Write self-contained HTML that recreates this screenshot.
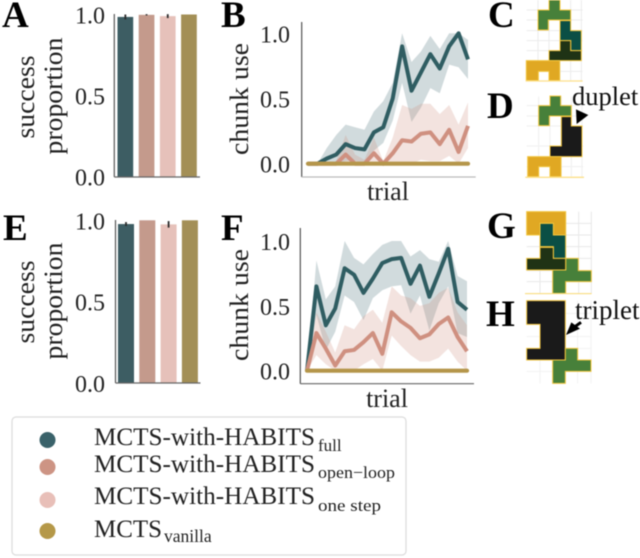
<!DOCTYPE html>
<html lang="en">
<head>
<meta charset="utf-8">
<title>Chunk use and success proportion panels</title>
<style>
html,body{margin:0;padding:0;background:#fff;}
svg{display:block;font-family:"Liberation Serif",serif;filter:blur(0.45px);}
text{fill:#222;}
</style>
</head>
<body>
<svg id="figure" width="640" height="558" viewBox="0 0 640 558" xmlns="http://www.w3.org/2000/svg">
  <rect width="640" height="558" fill="#fff"/>

  <g id="panel-a"></g>
  <g id="panel-b"></g>
  <g id="panel-e"></g>
  <g id="panel-f"></g>

  <g font-weight="bold" font-size="37" style="fill:#000">
    <text x="2" y="27" style="fill:#000">A</text>
    <text x="221" y="27" style="fill:#000">B</text>
    <text x="488" y="27" style="fill:#000">C</text>
    <text x="487" y="118" style="fill:#000">D</text>
    <text x="3" y="240" style="fill:#000">E</text>
    <text x="221" y="240" style="fill:#000">F</text>
    <text x="487" y="238" style="fill:#000">G</text>
    <text x="486" y="326" style="fill:#000">H</text>
  </g>

  <!-- Panel C -->
  <g transform="translate(500,0) scale(0.33333)" stroke="#f2c53d" stroke-width="3">
    <path d="M114 0V243M147 0V243M180 0V243M212 0V243M244 0V243M80 30H248M80 60H248M80 92H248M80 122H248M80 152H248M80 214H248" stroke="#ececec" stroke-width="3" fill="none"/>
    <polygon points="147,0 180,0 180,30 212,30 212,60 145,60 145,90 114,90 114,30 147,30" fill="#47803a"/>
    <polygon points="180,62 212,62 212,92 244,92 244,152 212,152 212,122 180,122" fill="#0b4f45"/>
    <polygon points="180,122 212,122 212,152 244,152 244,182 147,182 147,152 180,152" fill="#1f3315"/>
    <polygon points="79,182 179,182 179,242 147,242 147,214 115,214 115,242 79,242" fill="#e0a823"/>
    <path d="M77 243H248" stroke="#fce08a" stroke-width="4"/>
  </g>

  <!-- Panel D -->
  <g transform="translate(500,0) scale(0.33333)" stroke="#f2c53d" stroke-width="3">
    <path d="M116 290V530M150 290V530M184 290V530M214 290V530M246 290V530M80 317H250M80 348H250M80 378H250M80 438H250M80 500H250" stroke="#f0f0f0" stroke-width="3" fill="none"/>
    <polygon points="150,288 182,288 182,317 214,317 214,348 148,348 148,377 116,377 116,317 150,317" fill="#47803a"/>
    <polygon points="184,350 214,350 214,378 246,378 246,470 150,470 150,438 184,438" fill="#1a1a1a"/>
    <polygon points="83,470 183,470 183,530 150,530 150,500 116,500 116,530 83,530" fill="#e0a823"/>
    <path d="M76 532H252" stroke="#fce08a" stroke-width="4"/>
    <polygon points="228,328 265,345 230,372" fill="#000" stroke="none"/>
  </g>
  <text x="572" y="105" font-size="26.5" style="fill:#111">duplet</text>

  <!-- Panel G -->
  <g transform="translate(500,200) scale(0.33333)" stroke="#f2c53d" stroke-width="3">
    <path d="M120 35V280M158 35V280M197 35V280M236 35V280M274 35V280M80 70H275M80 105H275M80 140H275M80 175H275M80 212H275M80 245H275" stroke="#e8e8e8" stroke-width="3" fill="none"/>
    <polygon points="80,35 197,35 197,105 160,105 160,70 120,70 120,105 80,105" fill="#e0a823"/>
    <polygon points="120,70 160,70 160,105 197,105 197,175 160,175 160,140 120,140" fill="#0b4f45"/>
    <polygon points="197,175 235,175 235,212 274,212 274,245 197,245 197,280 158,280 158,210 197,210" fill="#47803a"/>
    <polygon points="120,142 160,142 160,175 197,175 197,210 80,210 80,175 120,175" fill="#1f3315"/>
    <path d="M75 281H275" stroke="#f8d870" stroke-width="3"/>
  </g>

  <!-- Panel H -->
  <g transform="translate(500,200) scale(0.33333)" stroke="#f2c53d" stroke-width="3">
    <path d="M120 302V550M158 302V550M233 302V550M273 302V550M196 480V550M80 340H275M80 410H275M196 445H275M80 514H275" stroke="#f2f2f2" stroke-width="3" fill="none"/>
    <polygon points="80,302 196,302 196,480 80,480 80,445 120,445 120,373 80,373" fill="#1a1a1a"/>
    <polygon points="196,445 233,445 233,480 273,480 273,514 196,514 196,550 158,550 158,480 196,480" fill="#47803a"/>
    <g stroke="none" fill="#000">
      <polygon points="198,405 214,367 240,386"/>
      <line x1="222" y1="382" x2="243" y2="367" stroke="#000" stroke-width="9"/>
    </g>
  </g>
  <text x="575" y="319" font-size="27" style="fill:#111">triplet</text>

  <!-- Legend -->
  <g>
    <rect x="12" y="417" width="394" height="138" rx="4" fill="#fff" stroke="#dcdcdc" stroke-width="1.2"/>
    <g>
      <circle cx="47.5" cy="440" r="8" fill="#3a626a"/>
      <text x="94" y="445" font-size="25" textLength="221" lengthAdjust="spacingAndGlyphs">MCTS-with-HABITS</text>
      <text x="318" y="451" font-size="17">full</text>
    </g>
    <g>
      <circle cx="47.5" cy="467" r="8" fill="#cd9484"/>
      <text x="94" y="472" font-size="25" textLength="221" lengthAdjust="spacingAndGlyphs">MCTS-with-HABITS</text>
      <text x="318" y="478" font-size="17" textLength="77" lengthAdjust="spacingAndGlyphs">open−loop</text>
    </g>
    <g>
      <circle cx="47.5" cy="500" r="8" fill="#e8bfb8"/>
      <text x="94" y="504" font-size="25" textLength="221" lengthAdjust="spacingAndGlyphs">MCTS-with-HABITS</text>
      <text x="318" y="511" font-size="17" textLength="63" lengthAdjust="spacingAndGlyphs">one step</text>
    </g>
    <g>
      <circle cx="47.5" cy="531" r="8" fill="#b59848"/>
      <text x="94" y="537" font-size="25" textLength="68" lengthAdjust="spacingAndGlyphs">MCTS</text>
      <text x="164" y="542" font-size="17.5">vanilla</text>
    </g>
  </g>
</svg>

<script>
// Shared tick labels and bar colours
const yTickValues = [0, 0.5, 1];
const yTickLabels = ['0.0', '0.5', '1.0'];
const barColors = ['#3d5d63', '#c49a8c', '#e6c1ba', '#a38f56'];
const barMethods = ['full', 'open-loop', 'one-step', 'vanilla'];

// Panel A: success proportion
const panelAValues = [0.985, 0.998, 0.99, 1.0];
const panelAErrors = [0.015, 0.004, 0.012, 0];
// Panel E: success proportion
const panelEValues = [0.977, 1.0, 0.975, 1.0];
const panelEErrors = [0.012, 0, 0.02, 0];

// Panel B: chunk use per trial
const panelBFullMean = [0, 0, 0.04, 0.07, 0.15, 0.12, 0.11, 0.24, 0.28, 0.5, 0.9, 0.56, 0.7, 0.84, 0.73, 0.9, 1.0, 0.8];
const panelBFullUpper = [0, 0, 0.12, 0.22, 0.3, 0.28, 0.26, 0.4, 0.48, 0.62, 1.0, 0.78, 0.86, 0.98, 0.88, 1.0, 1.0, 0.95];
const panelBFullLower = [0, 0, 0, 0, 0.02, 0.02, 0.01, 0.1, 0.16, 0.33, 0.62, 0.32, 0.43, 0.58, 0.54, 0.76, 0.74, 0.65];
const panelBOpenMean = [0, 0, 0, 0, 0.07, 0, 0, 0.08, 0, 0.08, 0.18, 0.17, 0.23, 0.24, 0.15, 0.26, 0.09, 0.29];
const panelBOpenUpper = [0, 0, 0, 0.02, 0.22, 0.07, 0.03, 0.2, 0.02, 0.2, 0.45, 0.42, 0.46, 0.46, 0.38, 0.45, 0.3, 0.47];
const panelBOpenLower = [0, 0, 0, 0, 0, 0, 0, 0, 0, 0, 0, 0, 0.03, 0.02, 0.02, 0.06, 0, 0.12];
const panelBVanilla = [0, 0, 0, 0, 0, 0, 0, 0, 0, 0, 0, 0, 0, 0, 0, 0, 0, 0];

// Panel F: chunk use per trial
const panelFFullMean = [0, 0.65, 0.35, 0.48, 0.79, 0.74, 0.6, 0.71, 0.83, 0.86, 0.87, 0.67, 0.81, 0.57, 0.75, 0.94, 0.53, 0.47];
const panelFFullUpper = [0, 0.85, 0.55, 0.65, 1.0, 0.87, 0.82, 0.9, 0.97, 1.0, 1.0, 0.88, 0.93, 0.86, 0.84, 1.0, 0.73, 0.69];
const panelFFullLower = [0, 0.43, 0.16, 0.3, 0.58, 0.53, 0.39, 0.56, 0.62, 0.65, 0.66, 0.44, 0.58, 0.31, 0.52, 0.65, 0.29, 0.26];
const panelFOpenMean = [0, 0.29, 0.17, 0.04, 0.15, 0.16, 0.22, 0.29, 0.13, 0.45, 0.38, 0.33, 0.25, 0.28, 0.36, 0.41, 0.26, 0.15];
const panelFOpenUpper = [0, 0.45, 0.3, 0.14, 0.35, 0.32, 0.42, 0.47, 0.37, 0.65, 0.58, 0.56, 0.5, 0.52, 0.6, 0.64, 0.45, 0.35];
const panelFOpenLower = [0, 0.12, 0.05, 0, 0.01, 0, 0.05, 0.09, 0, 0.27, 0.19, 0.12, 0.07, 0.07, 0.1, 0.17, 0.07, 0];
const panelFVanilla = [0, 0, 0, 0, 0, 0, 0, 0, 0, 0, 0, 0, 0, 0, 0, 0, 0, 0];

const NS = 'http://www.w3.org/2000/svg';

function make(parent, tag, attrs, text) {
  const el = document.createElementNS(NS, tag);
  for (const key in attrs) el.setAttribute(key, attrs[key]);
  if (text !== undefined) el.textContent = text;
  parent.appendChild(el);
  return el;
}

function drawYTicks(g, panel, y, anchorX) {
  yTickValues.forEach(function (v, i) {
    const el = make(g, 'text', { x: anchorX, y: y(v) + 9, 'font-size': 24, 'text-anchor': 'end' }, yTickLabels[i]);
    
    
  });
}

function drawRotated(g, name, text, x, cy, size, len) {
  const el = make(g, 'text', {
    transform: 'translate(' + x + ',' + cy + ') rotate(-90)',
    'text-anchor': 'middle',
    'font-size': size,
    textLength: len,
    lengthAdjust: 'spacingAndGlyphs'
  }, text);
  
  
}

function drawBarPanel(id, panel, values, errors, frame) {
  const g = document.getElementById(id);
  const y = function (v) { return frame.y0 + (frame.y1 - frame.y0) * v; };
  const x = function (i) { return frame.barLeft + i * frame.barStep; };

  values.forEach(function (v, i) {
    const bar = make(g, 'rect', { x: x(i), y: y(v), width: frame.barWidth, height: frame.y0 - y(v), fill: barColors[i] });
    
    
    if (errors[i] > 0) {
      const cx = x(i) + frame.barWidth / 2;
      const err = make(g, 'line', { x1: cx, x2: cx, y1: y(v + errors[i]), y2: y(v - errors[i]), stroke: '#2a2a2a', 'stroke-width': 1.8 });
      
      
    }
  });

  const yAxis = make(g, 'line', { x1: frame.axisX, x2: frame.axisX, y1: frame.axisTop, y2: frame.axisBottom, stroke: '#555', 'stroke-width': 1.2 });
  
  
  const xAxis = make(g, 'line', { x1: frame.axisX, x2: frame.axisRight, y1: frame.axisBottom, y2: frame.axisBottom, stroke: '#666', 'stroke-width': 1.3 });
  
  

  drawYTicks(g, panel, y, 105);
  drawRotated(g, panel + '-y-axis-title-success', 'success', 34, frame.labelY, 26, 83);
  drawRotated(g, panel + '-y-axis-title-proportion', 'proportion', 62, frame.labelY - 1, 26, 117);
}

function drawLinePanel(id, panel, s, frame) {
  const g = document.getElementById(id);
  const n = s.fullMean.length;
  const x = function (i) { return frame.x0 + (frame.x1 - frame.x0) * i / (n - 1); };
  const y = function (v) { return frame.y0 + (frame.y1 - frame.y0) * v; };
  const linePath = function (vals) {
    return vals.map(function (v, i) { return (i ? 'L' : 'M') + x(i).toFixed(2) + ' ' + y(v).toFixed(2); }).join('');
  };
  const bandPath = function (upper, lower) {
    let d = linePath(upper);
    for (let i = n - 1; i >= 0; i--) d += 'L' + x(i).toFixed(2) + ' ' + y(lower[i]).toFixed(2);
    return d + 'Z';
  };

  const bandFull = make(g, 'path', { d: bandPath(s.fullUpper, s.fullLower), fill: '#2f5d62', 'fill-opacity': 0.22 });
  
  
  const bandOpen = make(g, 'path', { d: bandPath(s.openUpper, s.openLower), fill: '#cf9080', 'fill-opacity': 0.25 });
  
  

  const lineFull = make(g, 'path', { d: linePath(s.fullMean), fill: 'none', stroke: '#2f5d62', 'stroke-width': 4, 'stroke-linejoin': 'round' });
  
  
  const lineOpen = make(g, 'path', { d: linePath(s.openMean), fill: 'none', stroke: '#cf9080', 'stroke-width': 4, 'stroke-linejoin': 'round' });
  
  
  const lineVanilla = make(g, 'path', { d: linePath(s.vanilla), fill: 'none', stroke: '#b5964a', 'stroke-width': 4.2, 'stroke-linecap': 'round' });
  
  

  const yAxis = make(g, 'line', { x1: frame.axisX, x2: frame.axisX, y1: frame.axisTop, y2: frame.axisBottom, stroke: '#444', 'stroke-width': 1.1 });
  
  
  const xAxis = make(g, 'line', { x1: frame.axisX, x2: frame.axisRight, y1: frame.axisBottom, y2: frame.axisBottom, stroke: frame.xAxisColor, 'stroke-width': 1.2 });
  
  

  drawYTicks(g, panel, y, 290);
  drawRotated(g, panel + '-y-axis-title', 'chunk use', 248, frame.labelY, 26, 112);
  const xTitle = make(g, 'text', { x: frame.trialX, y: frame.trialY, 'font-size': 26, 'text-anchor': 'middle' }, 'trial');
  
  
}

drawBarPanel('panel-a', 'panel-a', panelAValues, panelAErrors, {
  y0: 176.5, y1: 14.5, barLeft: 117.5, barStep: 21.2, barWidth: 15.7,
  axisX: 114.3, axisTop: 14, axisBottom: 177, axisRight: 200, labelY: 97
});
drawBarPanel('panel-e', 'panel-e', panelEValues, panelEErrors, {
  y0: 383, y1: 220.3, barLeft: 118, barStep: 21.3, barWidth: 16,
  axisX: 115.5, axisTop: 220, axisBottom: 383, axisRight: 200.5, labelY: 302
});
drawLinePanel('panel-b', 'panel-b', {
  fullMean: panelBFullMean, fullUpper: panelBFullUpper, fullLower: panelBFullLower,
  openMean: panelBOpenMean, openUpper: panelBOpenUpper, openLower: panelBOpenLower,
  vanilla: panelBVanilla
}, {
  x0: 308, x1: 468, y0: 163.7, y1: 33.3,
  axisX: 301.7, axisTop: 22, axisBottom: 177, axisRight: 475.7, xAxisColor: '#bbb',
  labelY: 99, trialX: 388, trialY: 200
});
drawLinePanel('panel-f', 'panel-f', {
  fullMean: panelFFullMean, fullUpper: panelFFullUpper, fullLower: panelFFullLower,
  openMean: panelFOpenMean, openUpper: panelFOpenUpper, openLower: panelFOpenLower,
  vanilla: panelFVanilla
}, {
  x0: 307, x1: 467, y0: 370.7, y1: 241,
  axisX: 300.3, axisTop: 228, axisBottom: 383.7, axisRight: 474, xAxisColor: '#666',
  labelY: 305, trialX: 387, trialY: 407
});
</script>
</body>
</html>
